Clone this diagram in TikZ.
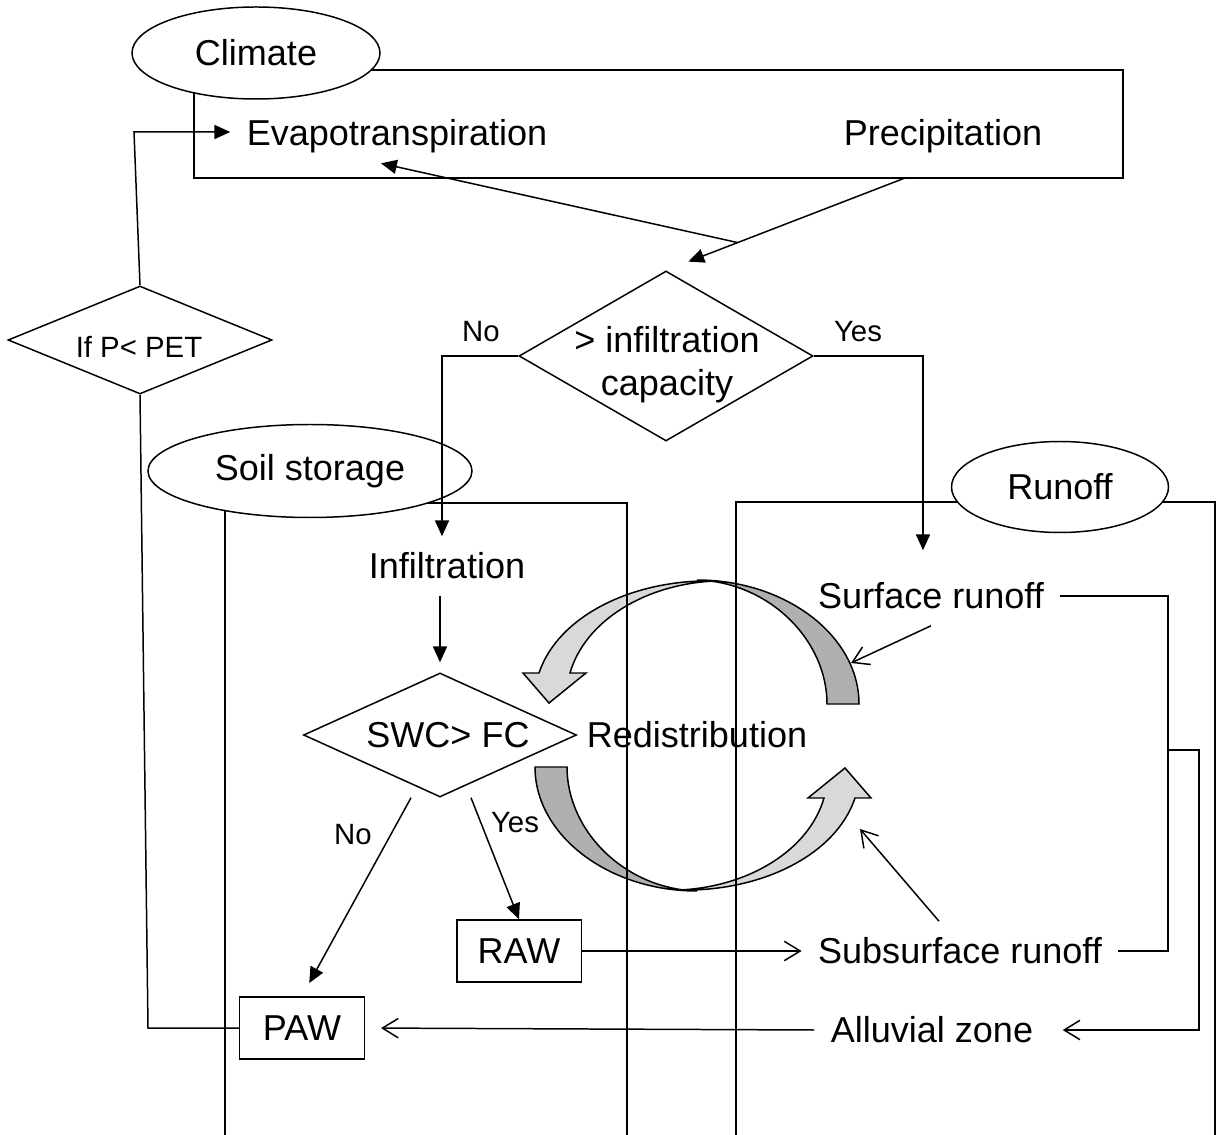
\documentclass[tikz,border=0pt]{standalone}
\usepackage{fontspec}
\setmainfont{Liberation Sans}
\usetikzlibrary{shapes.geometric, arrows.meta}

\definecolor{backgray}{HTML}{B0B0B0}
\definecolor{frontgray}{HTML}{D9D9D9}

\begin{document}
\begin{tikzpicture}[
    x=0.2mm, y=-0.2mm,
    line width=0.85pt,
    txt/.style={font=\fontsize{20.5}{24.4}\selectfont, inner sep=9pt},
    lbl/.style={font=\fontsize{16.7}{20}\selectfont, inner sep=0pt},
    term/.style={ellipse, draw, fill=white, font=\fontsize{20.5}{24.4}\selectfont},
    decision/.style={diamond, draw, inner sep=0pt},
    store/.style={draw, font=\fontsize{20.5}{24.4}\selectfont, minimum width=2.49cm, minimum height=1.24cm},
    arr/.style={-{Triangle[length=9pt,width=8pt]}},
    oarr/.style={-{Straight Barb[length=9pt,width=11pt]}},
    backband/.style={draw, fill=backgray},
    frontband/.style={draw, fill=frontgray}
]

\useasboundingbox (0,0) rectangle (1218,1135);

% ============================================================
% Redistribution loop (two curved block arrows)
% ============================================================
\foreach \ang in {0,180} {
    \begin{scope}[rotate around={\ang:(697,735.5)}]
        \filldraw[backband] (859,704) -- (827,704)
            .. controls (827,640) and (769,582) .. (697,580)
            .. controls (786,580) and (859,636) .. (859,704) -- cycle;
        \filldraw[frontband] (715,581)
            .. controls (633,579) and (558,616) .. (539,673)
            -- (523,673) -- (549,703) -- (586,673) -- (570,673)
            .. controls (585,621) and (645,584) .. (715,581) -- cycle;
    \end{scope}
}

% ============================================================
% Compartments
% ============================================================
\draw (194,70) rectangle (1123,178);
\draw (225,1135) -- (225,503) -- (627,503) -- (627,1135);
\draw (736,1135) -- (736,502) -- (1215,502) -- (1215,1135);

\node[term, minimum width=4.96cm, minimum height=1.84cm] (climate) at (256,53) {Climate};
\node[term, minimum width=6.48cm, minimum height=1.86cm] (soil) at (310,471) {Soil storage};
\node[term, minimum width=4.34cm, minimum height=1.82cm] (runoff) at (1060,487) {Runoff};

% Decisions
\node[decision, minimum width=5.28cm, minimum height=2.16cm] (ifpet) at (140,340) {};
\node[lbl] (ifpettxt) at (139,347) {If P< PET};
\node[decision, minimum width=5.88cm, minimum height=3.4cm] (infcap) at (666,356) {};
\node[txt, align=center] (infcaptxt) at (667,365) {> infiltration\\capacity};
\node[decision, minimum width=5.46cm, minimum height=2.48cm] (swc) at (440,735) {};
\node[txt] (swctxt) at (448,735) {SWC> FC};

% Processes
\node[txt] (evap) at (397,136) {Evapotranspiration};
\node[txt] (precip) at (943,136) {Precipitation};
\node[txt] (infil) at (447,566) {Infiltration};
\node[txt] (redist) at (697,735) {Redistribution};
\node[txt] (surf) at (931,596) {Surface runoff};
\node[txt] (subsurf) at (960,951) {Subsurface runoff};
\node[txt] (alluv) at (932,1030) {Alluvial zone};
\node[store] (raw) at (519,951) {RAW};
\node[store] (paw) at (302,1028) {PAW};

% Branch labels
\node[lbl] (no1) at (481,332) {No};
\node[lbl] (yes1) at (858,332) {Yes};
\node[lbl] (no2) at (353,835) {No};
\node[lbl] (yes2) at (515,823) {Yes};

% ============================================================
% Connectors
% ============================================================
\coordinate (precipout) at (905,178);
\coordinate (etturn) at (134,132);
\coordinate (pawturn) at (148,1028);
\coordinate (rbar) at (1168,750);
\coordinate (topband) at (851,663);
\coordinate (botband) at (860,829);

\draw[arr, shorten >=0.48cm] (precipout) -- coordinate[pos=0.7] (split) (infcap.north);
\draw[arr] (split) -- ([xshift=-0.32cm, yshift=0.12cm]evap.south);
\draw[arr] (ifpet.north) -- (etturn) -- (evap.west |- etturn);
\draw (ifpet.south) -- (pawturn) -- (paw.west);

\draw[arr] (infcap.west) -| ([xshift=-0.1cm]infil.north);
\draw[arr, shorten >=0.32cm] (infcap.east) -| ([xshift=-0.16cm]surf.north);
\draw[arr, shorten >=0.2cm] (infil.south -| swc.north) -- (swc.north);
\draw[arr, shorten >=0.3cm] ([xshift=-0.58cm]swc.south) -- (paw.north);
\draw[arr] ([xshift=0.62cm]swc.south) -- (raw.north);

\draw[oarr] (raw.east) -- (subsurf.west);
\draw[oarr, shorten >=0.32cm] (alluv.west) -- (paw.east);
\draw (surf.east) -| (rbar) |- (subsurf.east);
\draw[oarr, shorten >=0.26cm] (rbar) -- ++(31,0) |- (alluv.east);
\draw[oarr] (surf.south) -- (topband);
\draw[oarr] ([xshift=-0.42cm]subsurf.north) -- (botband);
\end{tikzpicture}
\end{document}
